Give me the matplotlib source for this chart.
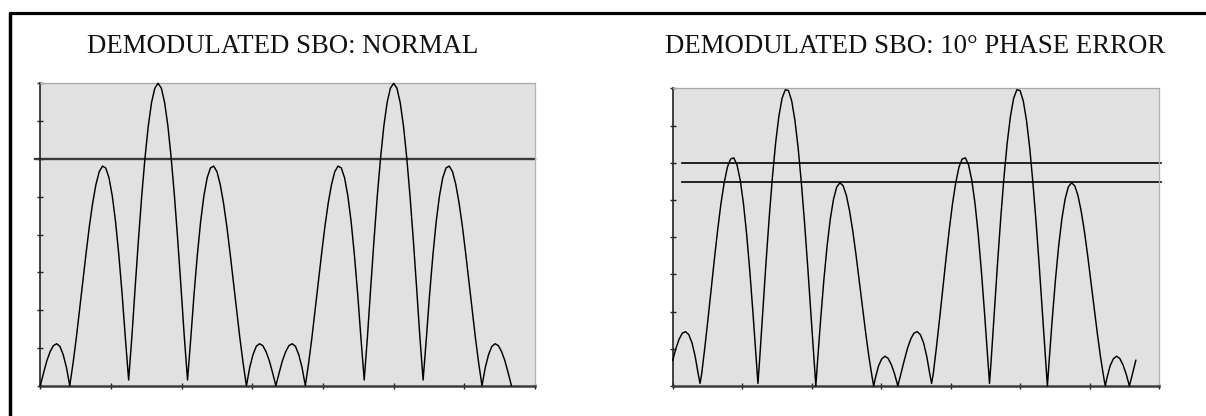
import matplotlib
matplotlib.use("Agg")
import matplotlib.pyplot as plt
from matplotlib.lines import Line2D

# ---- data -------------------------------------------------------------
# Phase angle of the 30 Hz cycle (degrees), sampled every 2.5 degrees
phase_deg = [i * 2.5 for i in range(145)]

# Demodulated SBO amplitude, normal case
sbo_normal = [
    0.00, 0.34, 0.66, 0.90, 1.06, 1.11, 1.04, 0.82, 0.48, 0.00,
    0.59, 1.26, 2.00, 2.76, 3.51, 4.22, 4.83, 5.32, 5.66, 5.81,
    5.76, 5.50, 5.02, 4.34, 3.46, 2.43, 1.26, 0.15, 1.31, 2.61,
    3.86, 5.02, 6.03, 6.87, 7.49, 7.87, 8.00, 7.87, 7.49, 6.87,
    6.03, 5.02, 3.86, 2.61, 1.31, 0.15, 1.26, 2.43, 3.46, 4.34,
    5.02, 5.50, 5.76, 5.81, 5.66, 5.32, 4.83, 4.22, 3.51, 2.76,
    2.00, 1.26, 0.59, 0.00, 0.48, 0.82, 1.04, 1.11, 1.06, 0.90,
    0.66, 0.34, 0.00,
    0.34, 0.66, 0.90, 1.06, 1.11, 1.04, 0.82, 0.48, 0.00,
    0.59, 1.26, 2.00, 2.76, 3.51, 4.22, 4.83, 5.32, 5.66, 5.81,
    5.76, 5.50, 5.02, 4.34, 3.46, 2.43, 1.26, 0.15, 1.31, 2.61,
    3.86, 5.02, 6.03, 6.87, 7.49, 7.87, 8.00, 7.87, 7.49, 6.87,
    6.03, 5.02, 3.86, 2.61, 1.31, 0.15, 1.26, 2.43, 3.46, 4.34,
    5.02, 5.50, 5.76, 5.81, 5.66, 5.32, 4.83, 4.22, 3.51, 2.76,
    2.00, 1.26, 0.59, 0.00, 0.48, 0.82, 1.04, 1.11, 1.06, 0.90,
    0.66, 0.34, 0.00,
]

# Demodulated SBO amplitude with a 10 degree phase error
sbo_phase_err = [
    0.69, 1.01, 1.26, 1.42, 1.46, 1.38, 1.16, 0.79, 0.29, 0.32,
    1.04, 1.82, 2.63, 3.44, 4.21, 4.90, 5.46, 5.88, 6.10, 6.13,
    5.94, 5.53, 4.90, 4.07, 3.06, 1.91, 0.66, 0.67, 2.00, 3.30,
    4.52, 5.61, 6.53, 7.24, 7.73, 7.96, 7.94, 7.66, 7.14, 6.40,
    5.46, 4.38, 3.18, 1.91, 0.63, 0.62, 1.79, 2.85, 3.76, 4.49,
    5.02, 5.35, 5.46, 5.38, 5.12, 4.70, 4.16, 3.52, 2.83, 2.12,
    1.43, 0.79, 0.24, 0.21, 0.54, 0.73, 0.80, 0.74, 0.57, 0.32,
    0.00, 0.35,
    0.69, 1.01, 1.26, 1.42, 1.46, 1.38, 1.16, 0.79, 0.29, 0.32,
    1.04, 1.82, 2.63, 3.44, 4.21, 4.90, 5.46, 5.88, 6.10, 6.13,
    5.94, 5.53, 4.90, 4.07, 3.06, 1.91, 0.66, 0.67, 2.00, 3.30,
    4.52, 5.61, 6.53, 7.24, 7.73, 7.96, 7.94, 7.66, 7.14, 6.40,
    5.46, 4.38, 3.18, 1.91, 0.63, 0.62, 1.79, 2.85, 3.76, 4.49,
    5.02, 5.35, 5.46, 5.38, 5.12, 4.70, 4.16, 3.52, 2.83, 2.12,
    1.43, 0.79, 0.24, 0.21, 0.54, 0.73, 0.80, 0.74, 0.57, 0.32,
    0.00, 0.35,
    0.69,
]
# nulls of the phase-error trace that fall between the regular samples
null_phase = [21.25, 66.25, 111.25, 156.25, 201.25, 246.25, 291.25, 336.25]
null_level = [0.07, 0.07, 0.00, 0.00, 0.07, 0.07, 0.00, 0.00]

# reference levels (peak amplitudes of the outer lobes)
level_normal = [6.0]
level_phase_err = [6.0, 5.47]

titles = ["DEMODULATED SBO: NORMAL", "DEMODULATED SBO: 10\u00b0 PHASE ERROR"]

x_ticks = [0, 54, 108, 162, 216, 270, 324, 378]
y_ticks = [0, 1, 2, 3, 4, 5, 6, 7, 8]

# ---- figure -----------------------------------------------------------
W, H = 1206, 416
fig = plt.figure(figsize=(W / 100, H / 100), dpi=100)
fig.patch.set_facecolor("white")


def px_axes(x0, x1, top, bottom):
    return fig.add_axes([x0 / W, 1 - bottom / H, (x1 - x0) / W, (bottom - top) / H])


def style(ax):
    ax.set_facecolor("#e1e1e1")
    ax.set_xlim(0, 378)
    ax.set_ylim(0, 8)
    ax.set_xticks(x_ticks)
    ax.set_yticks(y_ticks)
    ax.set_xticklabels([])
    ax.set_yticklabels([])
    ax.tick_params(direction="inout", length=4.5, width=1.0, color="#222222")
    ax.spines["left"].set_color("#222222")
    ax.spines["left"].set_linewidth(1.2)
    ax.spines["bottom"].set_color("#3c3c3c")
    ax.spines["bottom"].set_linewidth(1.8)
    ax.spines["top"].set_color("#a8a8a8")
    ax.spines["top"].set_linewidth(0.9)
    ax.spines["right"].set_color("#b4b4b4")
    ax.spines["right"].set_linewidth(0.9)


ax1 = px_axes(40.3, 535.0, 83.3, 385.7)
ax2 = px_axes(672.7, 1159.0, 88.3, 386.0)
style(ax1)
style(ax2)

# normal trace
ax1.plot(phase_deg, sbo_normal, color="black", lw=1.05, clip_on=False, zorder=3)
for lv in level_normal:
    ax1.plot([-3.8, 378], [lv, lv], color="#3a3a3a", lw=1.7, clip_on=False, zorder=2)

# phase error trace, with the extra null samples merged in order
pts = sorted(list(zip(phase_deg, sbo_phase_err)) + list(zip(null_phase, null_level)))
ax2.plot([p[0] for p in pts], [p[1] for p in pts], color="black", lw=1.05,
         clip_on=False, zorder=3)
for lv in level_phase_err:
    ax2.plot([7, 379.5], [lv, lv], color="black", lw=1.2, clip_on=False, zorder=2)

# titles
title_font = dict(family=["Liberation Serif", "DejaVu Serif"], fontsize=19.3, color="#111111")
fig.text(283 / W, 1 - 52.7 / H, titles[0], ha="center", va="baseline", **title_font)
fig.text(915 / W, 1 - 52.7 / H, titles[1], ha="center", va="baseline", **title_font)

# frame edges along the top and the left side
fig.add_artist(Line2D([8.5 / W, 1.0], [1 - 12.8 / H, 1 - 12.8 / H],
                      transform=fig.transFigure, color="black", lw=2.3,
                      solid_capstyle="butt"))
fig.add_artist(Line2D([10 / W, 10 / W], [1 - 11.5 / H, 0.0],
                      transform=fig.transFigure, color="black", lw=2.5,
                      solid_capstyle="butt"))

fig.savefig("out.png", dpi=100, facecolor="white")
